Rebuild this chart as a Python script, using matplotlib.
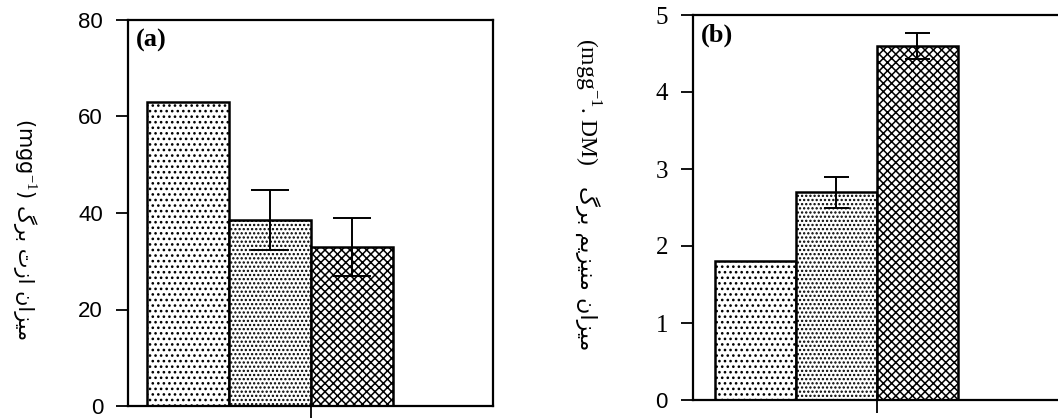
import matplotlib
matplotlib.use("Agg")
import matplotlib.pyplot as plt
import numpy as np

# leaf nitrogen (a) and leaf magnesium (b), three treatments each
treatments = ["T1", "T2", "T3"]
nitrogen = [63.0, 38.5, 33.0]
nitrogen_err = [0.0, 6.2, 6.0]
magnesium = [1.8, 2.7, 4.6]
magnesium_err = [0.0, 0.2, 0.17]

yticks_a = [0, 20, 40, 60, 80]
yticks_b = [0, 1, 2, 3, 4, 5]

# Persian words in shaped presentation forms, visual (left-to-right) order
w_barg = "\u06AF\uFEAE\uFE91"                       # برگ
w_azot = "\u062A\u0632\u0627"                       # ازت
w_mizan = "\u0646\u0627\uFEB0\uFEF4\uFEE3"          # میزان
w_magnesium = "\uFEE2\uFEF3\uFEB0\uFEF4\uFEE8\uFEE3"  # منیزیم

unit_a = "(mgg$^{-1}$) "
unit_b = "(mgg$^{-1}$. DM)"
words_a = w_barg + " " + w_azot + " " + w_mizan
words_b = w_barg + " " + w_magnesium + " " + w_mizan

hatches = ["...", "....", "xxxx"]

plt.rcParams["hatch.linewidth"] = 1.1
plt.rcParams["mathtext.fontset"] = "custom"
plt.rcParams["mathtext.rm"] = "Liberation Serif"

fig = plt.figure(figsize=(10.58, 4.18), dpi=100)
ax_a = fig.add_axes([128 / 1058, 1 - 406 / 418, (493 - 128) / 1058, (406 - 20) / 418])
ax_b = fig.add_axes([693 / 1058, 1 - 400 / 418, (1064 - 693) / 1058, (400 - 15) / 418])


def draw_panel(ax, values, errs, ylim, yticks, xlim, capsize, tag):
    x = np.arange(len(values))
    bars = ax.bar(x, values, width=1.0, color="white", edgecolor="black", linewidth=1.8)
    for b, h in zip(bars, hatches):
        b.set_hatch(h)
    xe = [i for i, e in zip(x, errs) if e > 0]
    ye = [v for v, e in zip(values, errs) if e > 0]
    ee = [e for e in errs if e > 0]
    ax.errorbar(xe, ye, yerr=ee, fmt="none", ecolor="black", elinewidth=1.4,
                capsize=capsize, capthick=1.4)
    ax.set_xlim(*xlim)
    ax.set_ylim(*ylim)
    ax.set_yticks(yticks)
    ax.set_xticks([1.5])
    ax.set_xticklabels([""])
    for s in ax.spines.values():
        s.set_linewidth(1.6)
    ax.tick_params(axis="both", direction="out", length=9, width=1.3, pad=9)
    ax.text(0.022, 0.978, tag, transform=ax.transAxes, ha="left", va="top",
            fontsize=19, fontweight="bold", family="Liberation Serif")


draw_panel(ax_a, nitrogen, nitrogen_err, (0, 80), yticks_a, (-0.73, 3.72), 14, "(a)")
draw_panel(ax_b, magnesium, magnesium_err, (0, 5), yticks_b, (-0.77, 3.81), 9, "(b)")

for t in ax_a.get_yticklabels():
    t.set_fontfamily("Liberation Sans")
    t.set_fontsize(16)
for t in ax_b.get_yticklabels():
    t.set_fontfamily("Liberation Serif")
    t.set_fontsize(18)
ax_b.get_yticklabels()[0].set_fontfamily("Liberation Sans")
ax_b.get_yticklabels()[0].set_fontsize(16)
ax_b.spines["right"].set_visible(False)

# y-axis titles, rotated to read top to bottom
fig.text(25 / 1058, 1 - 118 / 418, unit_a, rotation=270, ha="center", va="top",
         fontsize=15, family="DejaVu Sans")
fig.text(25 / 1058, 1 - 205 / 418, words_a, rotation=270, ha="center", va="top",
         fontsize=15, family="DejaVu Sans")
fig.text(587 / 1058, 1 - 38 / 418, unit_b, rotation=270, ha="center", va="top",
         fontsize=17, family="Liberation Serif")
fig.text(587 / 1058, 1 - 186 / 418, words_b, rotation=270, ha="center", va="top",
         fontsize=16, family="DejaVu Sans")

fig.savefig("out.png", dpi=100)
